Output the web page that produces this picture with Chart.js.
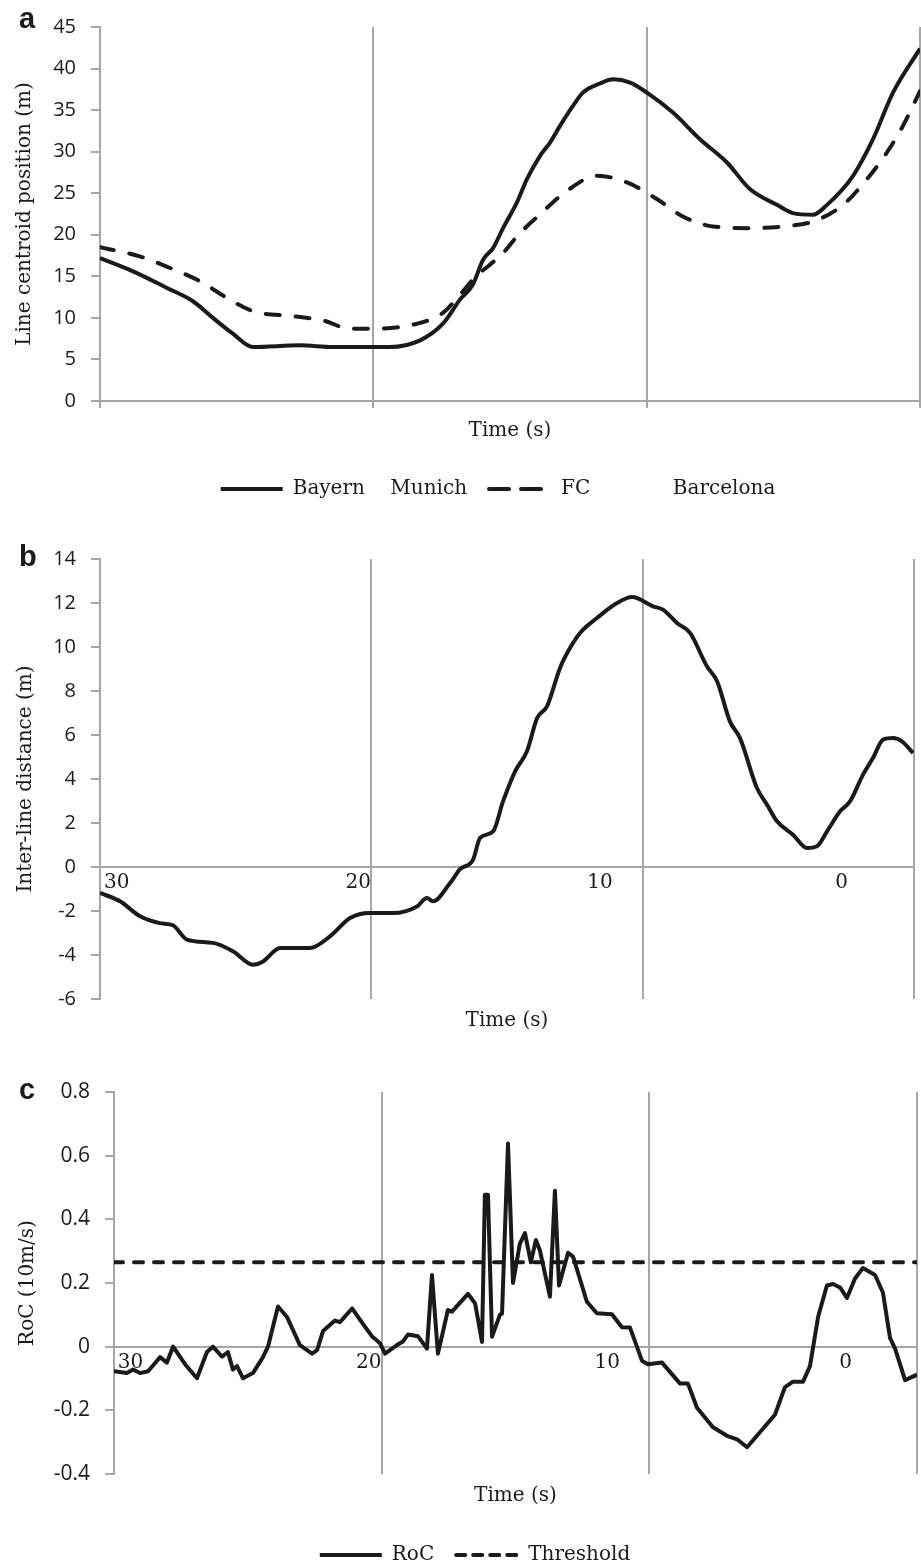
<!DOCTYPE html>
<html>
<head>
<meta charset="utf-8">
<script src="https://cdn.jsdelivr.net/npm/chart.js@4.4.1/dist/chart.umd.min.js"></script>
<style>
  html, body { margin: 0; padding: 0; background: #fff; overflow: hidden; }
  body { width: 921px; height: 1568px; position: relative; }
  .panel { position: absolute; left: 0; }
  .letter { position: absolute; left: 19px; font: bold 29px "Liberation Sans", Arial, sans-serif; line-height: 29px; color: #1a1a1a; }
</style>
</head>
<body>
<!-- panels a and c are wider than the page so that their legends centre where the original ones do -->
<div class="panel" style="top:0;width:996px;height:520px"><canvas id="chart-a"></canvas></div>
<div class="panel" style="top:520px;width:921px;height:520px"><canvas id="chart-b"></canvas></div>
<div class="panel" style="top:1040px;width:950px;height:540px"><canvas id="chart-c"></canvas></div>
<div class="letter" style="top:4px">a</div>
<div class="letter" style="top:542px">b</div>
<div class="letter" style="top:1075px">c</div>
<script>
// time axis runs from ~30.7 s down to -3 s (left to right)
const tMax = 30.69;
const tMin = -3.0;
const timeTicks = [30, 20, 10, 0];

// panel a: line centroid position (m)
const bayernTime = [30.69, 29.33, 27.94, 26.87, 26.05, 25.23, 24.40, 22.47, 21.12, 19.72, 18.78, 17.54, 16.60, 15.90, 15.37, 14.95, 14.54, 14.13, 13.56, 13.15, 12.61, 12.20, 11.79, 11.26, 10.85, 10.15, 9.61, 8.91, 8.22, 7.15, 6.04, 4.93, 3.99, 2.88, 2.22, 1.40, 0.82, -0.25, -1.07, -1.89, -3.00];
const bayernPos = [17.2, 15.6, 13.6, 12.0, 10.0, 8.1, 6.5, 6.7, 6.5, 6.5, 6.5, 7.3, 9.3, 12.2, 14.0, 17.0, 18.4, 20.8, 23.9, 26.7, 29.5, 31.1, 33.1, 35.5, 37.1, 38.2, 38.7, 38.3, 37.1, 34.7, 31.5, 28.7, 25.5, 23.6, 22.6, 22.4, 23.6, 27.1, 31.5, 37.1, 42.4];
const barcaTime = [30.69, 29.05, 27.81, 26.58, 25.47, 24.40, 22.76, 21.53, 20.42, 19.47, 17.67, 16.60, 15.90, 15.24, 14.67, 14.13, 13.56, 12.49, 11.50, 10.27, 9.04, 7.81, 6.74, 5.51, 3.99, 2.63, 1.40, 0.16, -0.82, -1.64, -2.30, -3.00];
const barcaPos = [18.5, 17.4, 16.0, 14.4, 12.4, 10.8, 10.2, 9.7, 8.7, 8.7, 9.3, 10.6, 12.8, 15.0, 16.4, 17.8, 19.8, 22.8, 25.3, 27.1, 26.3, 24.3, 22.2, 21.0, 20.8, 21.0, 21.6, 23.6, 26.7, 29.9, 33.1, 37.3];

// panel b: inter-line distance (m)
const distTime = [30.69, 29.86, 29.03, 28.21, 27.67, 27.09, 26.01, 25.19, 24.36, 23.94, 23.24, 22.00, 21.17, 20.34, 19.52, 18.56, 17.57, 17.16, 16.91, 16.20, 15.79, 15.25, 14.96, 14.42, 14.01, 13.51, 13.02, 12.60, 12.19, 11.65, 11.24, 10.82, 10.12, 9.29, 8.67, 7.80, 7.39, 6.81, 6.27, 5.57, 5.15, 4.62, 4.20, 3.50, 3.08, 2.67, 2.01, 1.43, 1.02, 0.60, 0.06, -0.35, -0.89, -1.30, -1.72, -2.13, -2.50, -2.96];
const distValue = [-1.18, -1.56, -2.24, -2.55, -2.65, -3.30, -3.45, -3.83, -4.44, -4.29, -3.68, -3.68, -3.15, -2.32, -2.09, -2.09, -1.79, -1.41, -1.56, -0.73, -0.10, 0.33, 1.32, 1.62, 2.98, 4.35, 5.26, 6.77, 7.30, 9.05, 9.95, 10.64, 11.32, 12.00, 12.27, 11.85, 11.70, 11.09, 10.64, 9.12, 8.44, 6.62, 5.86, 3.59, 2.83, 2.08, 1.47, 0.86, 0.94, 1.62, 2.53, 2.98, 4.20, 4.95, 5.79, 5.86, 5.71, 5.18];

// panel c: rate of change (10 m/s) and threshold
const rocTime = [30.69, 30.15, 29.89, 29.60, 29.26, 28.76, 28.47, 28.21, 27.71, 27.21, 26.79, 26.54, 26.16, 25.91, 25.70, 25.53, 25.28, 24.86, 24.44, 24.23, 23.81, 23.43, 22.89, 22.38, 22.17, 21.92, 21.42, 21.21, 20.70, 20.24, 19.87, 19.53, 19.32, 18.82, 18.57, 18.36, 17.94, 17.56, 17.35, 17.10, 16.68, 16.51, 15.84, 15.54, 15.25, 15.13, 15.00, 14.83, 14.50, 14.41, 14.16, 13.95, 13.66, 13.45, 13.20, 12.99, 12.82, 12.40, 12.19, 12.02, 11.64, 11.43, 10.85, 10.43, 9.80, 9.38, 9.04, 8.54, 8.29, 7.70, 6.94, 6.61, 6.23, 5.56, 4.97, 4.55, 4.13, 3.59, 2.96, 2.54, 2.20, 1.78, 1.49, 1.15, 0.78, 0.52, 0.23, -0.06, -0.40, -0.73, -1.24, -1.57, -1.87, -2.08, -2.50, -3.00];
const rocValue = [-0.077, -0.083, -0.072, -0.083, -0.077, -0.033, -0.050, 0.000, -0.055, -0.099, -0.017, 0.000, -0.031, -0.017, -0.072, -0.061, -0.099, -0.083, -0.033, 0.000, 0.126, 0.093, 0.005, -0.022, -0.011, 0.049, 0.082, 0.077, 0.120, 0.071, 0.033, 0.011, -0.022, 0.005, 0.016, 0.038, 0.033, -0.006, 0.225, -0.022, 0.115, 0.110, 0.166, 0.136, 0.015, 0.477, 0.477, 0.031, 0.100, 0.104, 0.638, 0.200, 0.324, 0.357, 0.265, 0.335, 0.302, 0.157, 0.490, 0.192, 0.295, 0.283, 0.141, 0.105, 0.102, 0.061, 0.060, -0.044, -0.055, -0.050, -0.116, -0.116, -0.192, -0.253, -0.280, -0.291, -0.316, -0.269, -0.214, -0.127, -0.110, -0.110, -0.061, 0.093, 0.192, 0.197, 0.186, 0.153, 0.214, 0.247, 0.225, 0.170, 0.027, -0.006, -0.105, -0.088];
const thresholdLevel = 0.265;

const gray = "#a6a6a6";
const ink = "#1a1a1a";
const serif = "'DejaVu Serif', serif";
const sans = "'Open Sans', sans-serif";

Chart.defaults.font.family = sans;
Chart.defaults.color = ink;

function points(times, values) {
  return times.map((t, i) => ({ x: t, y: values[i] }));
}

// vertical grid lines split the time range in three equal parts
function gridAxis(showBase, height, titlePad) {
  return {
    type: "linear",
    min: tMin,
    max: tMax,
    reverse: true,
    afterBuildTicks: function (axis) {
      let step = (tMax - tMin) / 3;
      axis.ticks = [0, 1, 2, 3].map((i) => ({ value: tMax - i * step }));
    },
    afterFit: function (axis) {
      axis.height = height;
    },
    ticks: { display: false },
    grid: { color: gray, lineWidth: 2, drawTicks: showBase, tickLength: 7 },
    border: { display: showBase, color: gray, width: 2 },
    title: {
      display: true,
      text: "Time (s)",
      color: ink,
      font: { family: serif, size: 20 },
      padding: { top: 0, bottom: titlePad },
    },
  };
}

// time labels sit on the zero line
function labelAxis() {
  return {
    type: "linear",
    axis: "x",
    position: { y: 0 },
    min: tMin,
    max: tMax,
    reverse: true,
    afterBuildTicks: function (axis) {
      axis.ticks = timeTicks.map((v) => ({ value: v }));
    },
    ticks: {
      color: ink,
      font: { family: serif, size: 20 },
      padding: 4,
      maxRotation: 0,
      autoSkip: false,
      callback: (v) => String(v),
    },
    grid: { display: false, drawTicks: false },
    border: { display: true, color: gray, width: 2 },
  };
}

// empty right-hand axis: keeps the plot narrower than the legend row
function spacerAxis(width) {
  return {
    type: "linear",
    position: "right",
    display: true,
    afterFit: function (axis) {
      axis.width = width;
    },
    ticks: { display: false },
    grid: { display: false, drawTicks: false },
    border: { display: false },
  };
}

function valueAxis(o) {
  return {
    min: o.min,
    max: o.max,
    afterFit: function (axis) {
      axis.width = o.width;
    },
    ticks: {
      stepSize: o.step,
      color: ink,
      font: { family: sans, size: o.fontSize },
      padding: 15,
      callback: (v) => String(Math.round(v * 10) / 10),
    },
    grid: { drawOnChartArea: false, color: gray, lineWidth: 2, tickLength: 9 },
    border: { color: gray, width: 2 },
    title: {
      display: true,
      text: o.title,
      color: ink,
      font: { family: serif, size: 20 },
      padding: { top: o.titlePad, bottom: 0 },
    },
  };
}

function legendFor(padding) {
  return {
    position: "bottom",
    labels: {
      usePointStyle: true,
      pointStyleWidth: 62,
      padding: padding,
      color: ink,
      font: { family: serif, size: 20 },
      generateLabels: function (chart) {
        return chart.data.datasets.map((ds, i) => ({
          text: ds.label,
          strokeStyle: ds.borderColor,
          fillStyle: ds.borderColor,
          lineWidth: ds.borderWidth,
          lineDash: ds.legendDash || [],
          lineCap: ds.borderCapStyle || "butt",
          pointStyle: "line",
          fontColor: ink,
          hidden: false,
          datasetIndex: i,
        }));
      },
    },
  };
}

function options(padding, scales, legend) {
  return {
    responsive: true,
    maintainAspectRatio: false,
    animation: false,
    devicePixelRatio: 1,
    layout: { padding: padding },
    scales: scales,
    plugins: {
      legend: legend || { display: false },
      tooltip: { enabled: false },
    },
  };
}

const solid = {
  borderColor: ink,
  borderWidth: 4,
  pointRadius: 0,
  fill: false,
  borderJoinStyle: "round",
};

new Chart(document.getElementById("chart-a"), {
  type: "line",
  data: {
    datasets: [
      Object.assign({}, solid, {
        label: "Bayern    Munich",
        data: points(bayernTime, bayernPos),
        cubicInterpolationMode: "monotone",
      }),
      Object.assign({}, solid, {
        label: "FC             Barcelona",
        data: points(barcaTime, barcaPos),
        cubicInterpolationMode: "monotone",
        borderDash: [14, 16],
        borderCapStyle: "round",
        legendDash: [20, 12],
      }),
    ],
  },
  options: options(
    { top: 23, right: 0, bottom: 11, left: 0 },
    {
      x: gridAxis(true, 56, 14),
      y: valueAxis({ min: 0, max: 45, step: 5, width: 100, titlePad: 13, fontSize: 20, title: "Line centroid position (m)" }),
      pad: spacerAxis(76),
    },
    legendFor(22)
  ),
});

new Chart(document.getElementById("chart-b"), {
  type: "line",
  data: {
    datasets: [
      Object.assign({}, solid, {
        label: "Inter-line distance",
        data: points(distTime, distValue),
        cubicInterpolationMode: "monotone",
      }),
    ],
  },
  options: options(
    { top: 39, right: 7, bottom: 7, left: 0 },
    {
      x: gridAxis(false, 34, 0),
      xl: labelAxis(),
      y: valueAxis({ min: -6, max: 14, step: 2, width: 100, titlePad: 14, fontSize: 20, title: "Inter-line distance (m)" }),
    }
  ),
});

new Chart(document.getElementById("chart-c"), {
  type: "line",
  data: {
    datasets: [
      Object.assign({}, solid, {
        label: "RoC",
        data: points(rocTime, rocValue),
      }),
      Object.assign({}, solid, {
        label: "Threshold",
        data: [{ x: tMax, y: thresholdLevel }, { x: tMin, y: thresholdLevel }],
        borderDash: [9, 11],
        borderCapStyle: "round",
        legendDash: [9, 8],
      }),
    ],
  },
  options: options(
    { top: 52, right: 0, bottom: 5, left: 0 },
    {
      x: gridAxis(false, 49, 15),
      xl: labelAxis(),
      y: valueAxis({ min: -0.4, max: 0.8, step: 0.2, width: 114, titlePad: 16, fontSize: 21, title: "RoC (10m/s)" }),
      pad: spacerAxis(33),
    },
    legendFor(22)
  ),
});
</script>
</body>
</html>
